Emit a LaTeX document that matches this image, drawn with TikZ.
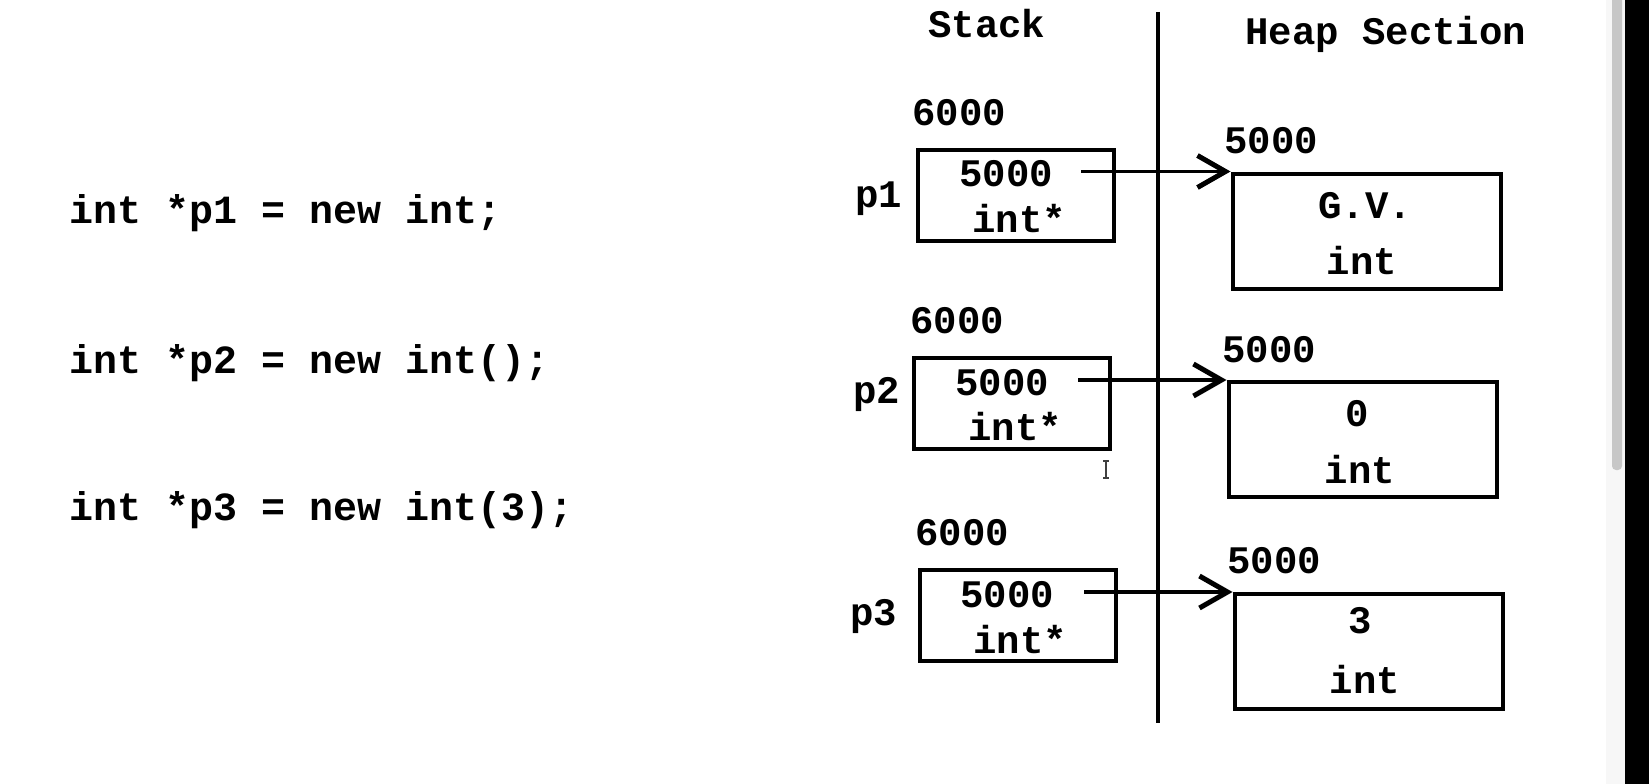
\documentclass[tikz,border=0pt]{standalone}
\usepackage{fontspec}
\setmonofont{Liberation Mono}
\usetikzlibrary{arrows.meta}
\tikzset{
  code/.style={font=\ttfamily\bfseries\fontsize{40}{48}\selectfont, inner sep=0pt, anchor=base west},
  lbl/.style={font=\ttfamily\bfseries\fontsize{39}{47}\selectfont, inner sep=0pt, anchor=base west},
  ctr/.style={font=\ttfamily\bfseries\fontsize{39}{47}\selectfont, inner sep=0pt, anchor=base},
  stackbox/.style={draw, line width=4pt, minimum width=196pt, minimum height=91pt, inner sep=0pt},
  heapbox/.style={draw, line width=4pt, minimum width=268pt, minimum height=115pt, inner sep=0pt},
  ptr/.style={line width=3.5pt, -{Straight Barb[length=28pt,width=32pt,line width=5pt]}},
  divider/.style={line width=4.3pt}
}
\begin{document}
\begin{tikzpicture}[x=1pt,y=-1pt]
\useasboundingbox (0,0) rectangle (1649,784);
\fill[white] (0,0) rectangle (1649,784);
% window edge (scrollbar and dark border)
\fill[black!3] (1606,0) rectangle (1625,784);
\fill[black!22, rounded corners=4pt] (1612,-10) rectangle (1622,470);
\fill[black] (1625,0) rectangle (1649,784);

% code
\node[code] (c1) at (69,223) {int *p1 = new int;};
\node[code] (c2) at (69,373) {int *p2 = new int();};
\node[code] (c3) at (69,520) {int *p3 = new int(3);};

% headings and divider
\node[lbl] (stack) at (928,38) {Stack};
\node[lbl] (heap) at (1245,45) {Heap Section};
\coordinate (vtop) at (1158,12);
\coordinate (vbot) at (1158,723);
\draw[divider] (vtop) -- (vbot);

% row 1
\node[lbl] (a1) at (912,125) {6000};
\node[stackbox] (s1) at (1015.5,195) {};
\node[lbl] (n1) at (855,207) {p1};
\node[ctr] (v1) at (1006,186) {5000};
\node[ctr] (t1) at (1019,232) {int*};
\node[lbl] (ha1) at (1224,153) {5000};
\node[heapbox] (h1) at (1366.5,231) {};
\node[ctr] (hv1) at (1365,218) {G.V.};
\node[ctr] (ht1) at (1362,274) {int};
\coordinate (p1s) at (1081,172);
\draw[ptr] (p1s |- h1.north west) -- (h1.north west);

% row 2
\node[lbl] (a2) at (910,333) {6000};
\node[stackbox] (s2) at (1012,403) {};
\node[lbl] (n2) at (853,403) {p2};
\node[ctr] (v2) at (1002,395) {5000};
\node[ctr] (t2) at (1015,440) {int*};
\node[lbl] (ha2) at (1222,362) {5000};
\node[heapbox] (h2) at (1362.5,439.5) {};
\node[ctr] (hv2) at (1357,426) {0};
\node[ctr] (ht2) at (1360,483) {int};
\coordinate (p2s) at (1078,380);
\draw[ptr] (p2s |- h2.north west) -- (h2.north west);

% row 3
\node[lbl] (a3) at (915,545) {6000};
\node[stackbox] (s3) at (1018,615.5) {};
\node[lbl] (n3) at (850,625) {p3};
\node[ctr] (v3) at (1007,607) {5000};
\node[ctr] (t3) at (1020,653) {int*};
\node[lbl] (ha3) at (1227,573) {5000};
\node[heapbox] (h3) at (1368.5,651.5) {};
\node[ctr] (hv3) at (1360,633) {3};
\node[ctr] (ht3) at (1365,693) {int};
\coordinate (p3s) at (1084,593);
\draw[ptr] (p3s |- h3.north west) -- (h3.north west);

% text cursor
\draw[line width=1.2pt, black!75] (1106,461) -- (1106,478)
  (1103,461) -- (1109,461) (1103,478) -- (1109,478);
\end{tikzpicture}
\end{document}
